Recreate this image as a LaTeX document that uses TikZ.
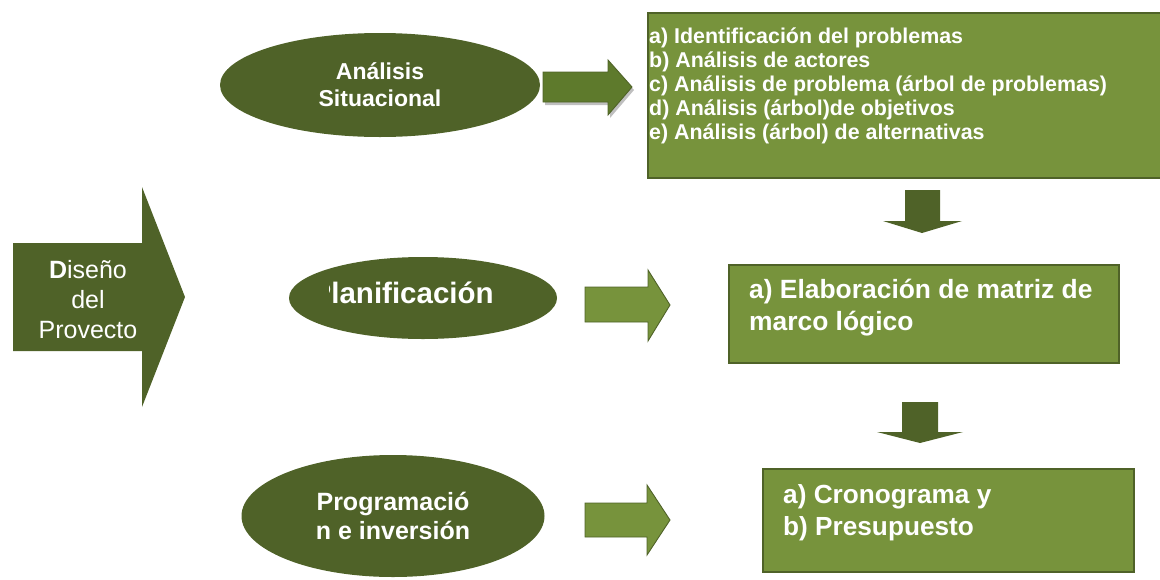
\documentclass[tikz,border=0pt]{standalone}
\usepackage{fontspec}
\setmainfont{Liberation Sans}
\usetikzlibrary{shapes.geometric}
\definecolor{dark}{HTML}{4F6228}
\definecolor{mid}{HTML}{77933C}
\definecolor{midlight}{HTML}{8DAA4C}
\definecolor{middark}{HTML}{5E7A2C}
\begin{document}
\begin{tikzpicture}[x=1pt,y=-1pt,
  oval/.style={ellipse, fill=dark, inner sep=0pt, text=white, align=center},
  box/.style={rectangle, fill=mid, draw=dark, line width=1.8pt, inner sep=0pt, anchor=north west},
  boxtext/.style={text=white, align=left, inner sep=0pt, anchor=north west},
  blockarrow/.style={fill=mid, draw=dark, line width=0.9pt, line join=miter},
  downarrow/.style={fill=dark}]
\useasboundingbox (0,0) rectangle (1160,579);

% big arrow
\fill[dark] (13,243) -- (142,243) -- (142,187) -- (185,297) -- (142,407) -- (142,351) -- (13,351) -- cycle;
\node[text=white, align=center, font=\fontsize{25}{30}\selectfont, inner sep=0pt, anchor=north] (dis) at (88,260) {\textbf{D}iseño\\del\\Provecto};

% Analisis situacional
\node[oval, font=\bfseries\fontsize{23}{27}\selectfont, minimum width=320pt, minimum height=104pt] (as) at (380,85) {Análisis\\Situacional};

% shaded arrow 1
\fill[black, opacity=0.25] (545,75) -- (610,75) -- (610,63) -- (634,90) -- (610,118) -- (610,105) -- (545,105) -- cycle;
\shade[top color=middark, middle color=midlight, bottom color=middark] (543,72) -- (608,72) -- (608,60) -- (632,87) -- (608,115) -- (608,102) -- (543,102) -- cycle;
\draw[dark, line width=0.9pt, line join=miter] (543,72) -- (608,72) -- (608,60) -- (632,87) -- (608,115) -- (608,102) -- (543,102) -- cycle;

% box 1
\node[box, minimum width=530pt, minimum height=165pt] (b1) at (647,12) {};
\node[boxtext, font=\bfseries\fontsize{21.4}{24.2}\selectfont] (t1) at (649,27.3) {a) Identificación del problemas\\b) Análisis de actores\\c) Análisis de problema (árbol de problemas)\\d) Análisis (árbol)de objetivos\\e) Análisis (árbol) de alternativas};

% down arrow 1
\fill[dark] (905,190) -- (940,190) -- (940,221) -- (962,221) -- (922,233) -- (883,221) -- (905,221) -- cycle;

% Planificacion
\node[oval, minimum width=268pt, minimum height=82pt] (pl) at (423,298) {};
\begin{scope}
\clip (329,250) rectangle (560,345);
\node[text=white, font=\bfseries\fontsize{29.5}{32}\selectfont, inner sep=0pt, anchor=base west] (plt) at (311.5,303) {Planificación};
\end{scope}

% arrow 2
\draw[blockarrow] (585,287) -- (648,287) -- (648,270) -- (670,305) -- (648,341) -- (648,322) -- (585,322) -- cycle;

% box 2
\node[box, minimum width=390pt, minimum height=98pt] (b2) at (728,264) {};
\node[boxtext, font=\bfseries\fontsize{26.4}{32}\selectfont] (t2) at (749,279) {a) Elaboración de matriz de\\marco lógico};

% down arrow 2
\fill[dark] (902,402) -- (938,402) -- (938,432) -- (963,432) -- (920,443) -- (877,432) -- (902,432) -- cycle;

% Programacion
\node[oval, font=\bfseries\fontsize{25}{29}\selectfont, minimum width=303pt, minimum height=122pt] (pr) at (393,516) {Programació\\n e inversión};

% arrow 3
\draw[blockarrow] (585,503) -- (647,503) -- (647,485) -- (670,520) -- (647,555) -- (647,537) -- (585,537) -- cycle;

% box 3
\node[box, minimum width=371pt, minimum height=103pt] (b3) at (762,468) {};
\node[boxtext, font=\bfseries\fontsize{26.2}{32}\selectfont] (t3) at (783,484) {a) Cronograma y\\b) Presupuesto};
\end{tikzpicture}
\end{document}
